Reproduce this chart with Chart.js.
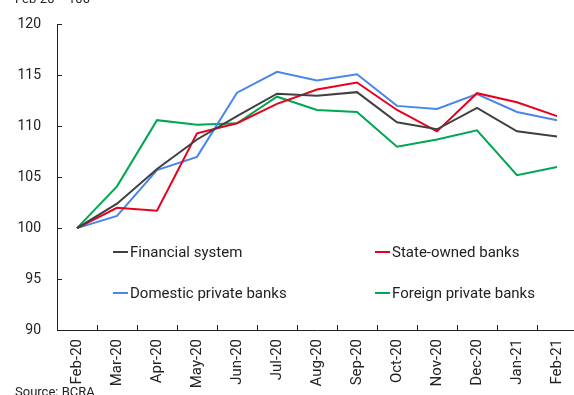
<!DOCTYPE html>
<html>
<head>
<meta charset="utf-8">
<script src="https://cdn.jsdelivr.net/npm/chart.js@4/dist/chart.umd.min.js"></script>
<style>
  html, body { margin: 0; padding: 0; width: 574px; height: 395px; overflow: hidden; background: #fff; }
  #wrap { position: relative; width: 574px; height: 395px; overflow: hidden; font-family: Roboto, "Noto Sans", sans-serif; color: #222; }
  canvas { position: absolute; left: 0; top: 0; }
  .txt { position: absolute; white-space: nowrap; font-size: 13px; line-height: 15px; color: #222; }
  .leg { position: absolute; white-space: nowrap; font-size: 15px; line-height: 18px; color: #222; display: flex; align-items: center; }
  .leg span.sw { display: inline-block; width: 15px; height: 2px; margin-right: 2px; }
</style>
</head>
<body>
<div id="wrap">
  <canvas id="c" width="584" height="395"></canvas>
  <div class="txt" id="title" style="left:15px; top:-9px;">Feb-20 = 100</div>
  <div class="txt" id="source" style="left:15px; top:384px;">Source: BCRA</div>
</div>
<script>
const categories = ["Feb-20","Mar-20","Apr-20","May-20","Jun-20","Jul-20","Aug-20","Sep-20","Oct-20","Nov-20","Dec-20","Jan-21","Feb-21"];
const financialSystem   = [100, 102.4, 105.8, 108.7, 111.0, 113.2, 113.0, 113.35, 110.4, 109.7, 111.8, 109.5, 109.0];
const stateOwnedBanks   = [100, 102.0, 101.7, 109.3, 110.3, 112.2, 113.6, 114.3, 111.6, 109.5, 113.25, 112.35, 111.0];
const domesticPrivate   = [100, 101.2, 105.7, 107.0, 113.3, 115.35, 114.5, 115.1, 112.0, 111.7, 113.15, 111.4, 110.6];
const foreignPrivate    = [100, 104.1, 110.6, 110.15, 110.3, 112.9, 111.6, 111.4, 108.0, 108.7, 109.6, 105.2, 106.0];
const seriesNames = ["Financial system", "State-owned banks", "Domestic private banks", "Foreign private banks"];
const yTicks = [90, 95, 100, 105, 110, 115, 120];

const colors = ["#404040", "#e8001c", "#4a86e8", "#00a651"];
const allSeries = [financialSystem, stateOwnedBanks, domesticPrivate, foreignPrivate];

const innerTicks = {
  id: 'innerTicks',
  afterDraw(chart) {
    const ctx = chart.ctx;
    const x = chart.scales.x, y = chart.scales.y;
    ctx.save();
    ctx.strokeStyle = '#222';
    ctx.lineWidth = 1;
    ctx.beginPath();
    for (const v of yTicks) {
      const py = Math.round(y.getPixelForValue(v)) + 0.5;
      ctx.moveTo(chart.chartArea.left, py);
      ctx.lineTo(chart.chartArea.left + 5, py);
    }
    for (let i = 1; i <= categories.length; i++) {
      const px = Math.round(x.getPixelForValue(i - 0.5)) + 0.5;
      ctx.moveTo(px, chart.chartArea.bottom);
      ctx.lineTo(px, chart.chartArea.bottom - 5);
    }
    ctx.stroke();
    ctx.restore();
  }
};

Chart.defaults.font.family = 'Roboto, "Noto Sans", sans-serif';
Chart.defaults.color = '#222';

const chart = new Chart(document.getElementById('c'), {
  type: 'line',
  data: {
    labels: categories,
    datasets: allSeries.map((d, i) => ({
      label: seriesNames[i],
      data: d,
      borderColor: colors[i],
      backgroundColor: colors[i],
      borderWidth: 2,
      pointRadius: 0,
      tension: 0,
      fill: false
    }))
  },
  options: {
    responsive: false,
    animation: false,
    devicePixelRatio: 1,
    layout: { padding: { top: 17, right: 0, left: 0, bottom: 0 } },
    plugins: { legend: { display: false }, tooltip: { enabled: false } },
    scales: {
      x: {
        type: 'category',
        offset: true,
        grid: { display: false, drawTicks: false },
        border: { display: true, color: '#222', width: 1 },
        ticks: { maxRotation: 90, minRotation: 90, padding: 9, font: { size: 15 }, color: '#222', autoSkip: false },
        afterFit(s) { s.height = 65; }
      },
      y: {
        min: 90, max: 120,
        afterBuildTicks(s) { s.ticks = yTicks.map(v => ({ value: v })); },
        grid: { display: false, drawTicks: false },
        border: { display: true, color: '#222', width: 1 },
        ticks: { padding: 16, font: { size: 14 }, color: '#222' },
        afterFit(s) { s.width = 57; }
      }
    }
  },
  plugins: [innerTicks]
});

// HTML legend built from dataset info, placed inside the plot area
const wrap = document.getElementById('wrap');
const legPos = [[113, 252], [375, 252], [113, 293], [375, 293]];
seriesNames.forEach((name, i) => {
  const d = document.createElement('div');
  d.className = 'leg';
  d.style.left = legPos[i][0] + 'px';
  d.style.top = (legPos[i][1] - 9) + 'px';
  d.innerHTML = '<span class="sw" style="background:' + colors[i] + '"></span>' + name;
  wrap.appendChild(d);
});
</script>
</body>
</html>
